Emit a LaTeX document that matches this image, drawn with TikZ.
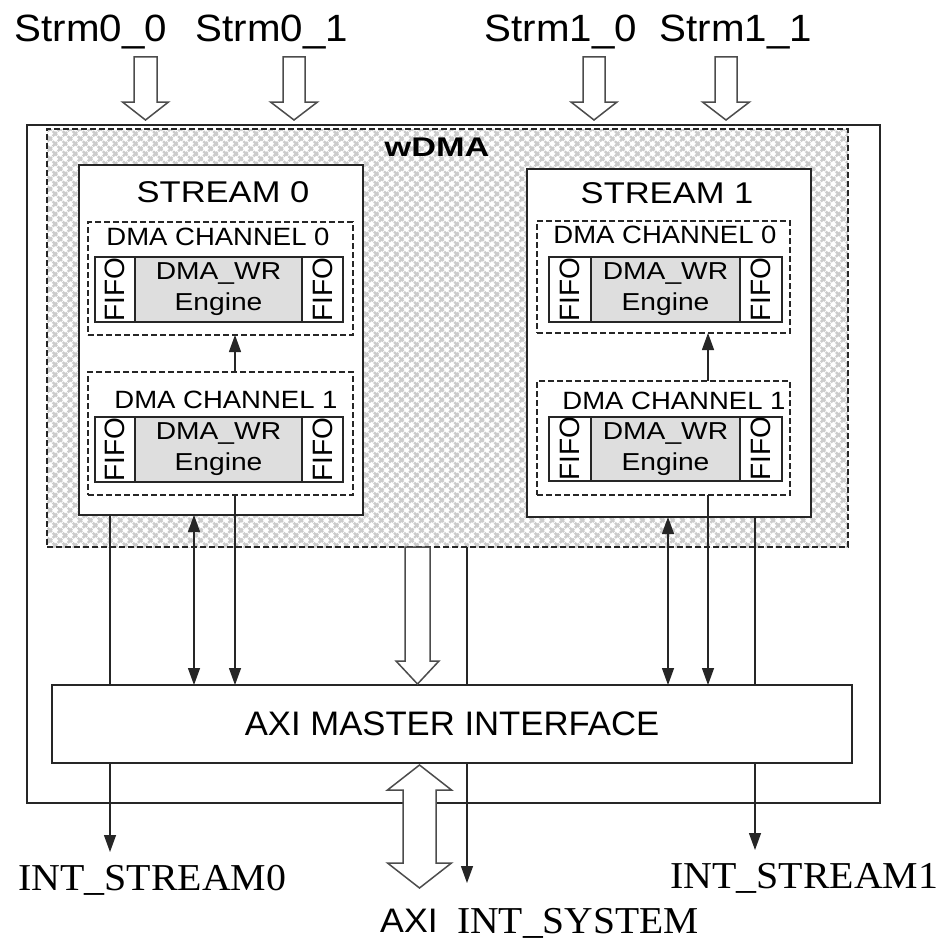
\documentclass[tikz,border=0pt]{standalone}
\usepackage{fontspec}
\setmainfont{Liberation Sans}
\newfontfamily\seriffont{Liberation Serif}
\usetikzlibrary{arrows.meta,patterns.meta,calc}
\newcommand\hx[2]{\scalebox{#1}[1]{#2}}
\newcommand\fs[1]{\fontsize{#1}{#1}\selectfont}
\newcommand\hollowdown[5]{\draw[hollow] ($(#1)+(-#3,0)$) -- ($(#2)+(-#3,-#5)$) -- ($(#2)+(-#4,-#5)$) -- (#2) -- ($(#2)+(#4,-#5)$) -- ($(#2)+(#3,-#5)$) -- ($(#1)+(#3,0)$) -- cycle;}
\newcommand\hollowboth[5]{\draw[hollow] (#1) -- ($(#1)+(#4,#5)$) -- ($(#1)+(#3,#5)$) -- ($(#2)+(#3,-#5)$) -- ($(#2)+(#4,-#5)$) -- (#2) -- ($(#2)+(-#4,-#5)$) -- ($(#2)+(-#3,-#5)$) -- ($(#1)+(-#3,#5)$) -- ($(#1)+(-#4,#5)$) -- cycle;}
\tikzset{
 box/.style={draw=black!85, line width=1.4pt, inner sep=0pt, outer sep=0pt, fill=white},
 dbox/.style={draw=black!85, line width=1.3pt, dash pattern=on 6pt off 3pt, inner sep=0pt, outer sep=0pt},
 eng/.style={box, fill=black!13, align=center, font=\fontsize{24.5}{31}\selectfont},
 fifo/.style={box, font=\fs{28}},
 conn/.style={draw=black!85, line width=1.3pt},
 sarrow/.style={-{Triangle[length=17pt,width=12pt]}},
 barrow/.style={{Triangle[length=17pt,width=12pt]}-{Triangle[length=17pt,width=12pt]}},
 hollow/.style={draw=black!70, line width=1.5pt, fill=white, line join=miter},
 lbl/.style={inner sep=0pt, anchor=base},
 hatchA/.style={pattern={Lines[angle=45,distance=7.1pt,line width=2.4pt]}, pattern color=black!20},
 hatchB/.style={pattern={Lines[angle=-45,distance=7.1pt,line width=2.4pt]}, pattern color=black!20},
}
\begin{document}
\begin{tikzpicture}[x=1pt,y=-1pt]
\useasboundingbox[fill=white] (0,0) rectangle (937,942);

% x references
\coordinate (X110) at (110,0);
\coordinate (X194) at (194,0);
\coordinate (X235) at (235,0);
\coordinate (X467) at (467,0);
\coordinate (X417) at (417.5,0);
\coordinate (X668) at (668,0);
\coordinate (X708) at (708,0);
\coordinate (X755) at (755,0);

% outer box
\node[box, minimum width=853pt, minimum height=678pt] (outer) at (453.5,464) {};

% wDMA hatched region
\node[dbox, preaction={fill=white}, preaction={hatchA}, hatchB, minimum width=801pt, minimum height=418pt] (wdma) at (447.5,338) {};
\node[lbl, font=\bfseries\fs{27}] (wlab) at (437,156) {\hx{1.27}{wDMA}};

% STREAM 0
\node[box, minimum width=284pt, minimum height=350pt] (s0) at (221,340) {};
\node[lbl, font=\fs{30}] (s0lab) at (223,202) {\hx{1.15}{STREAM 0}};
\node[dbox, minimum width=265pt, minimum height=113pt] (s0c0) at (220.5,278.5) {};
\node[lbl, font=\fs{25}] (s0c0lab) at (218,245) {\hx{1.1}{DMA CHANNEL 0}};
\node[fifo, minimum width=40pt, minimum height=65pt] (s0c0l) at (115,289.5) {\rotatebox{90}{FIFO}};
\node[eng, minimum width=167pt, minimum height=65pt] (s0c0e) at (218.5,289.5) {\hx{1.15}{DMA\_WR}\\\hx{1.15}{Engine}};
\node[fifo, minimum width=41pt, minimum height=65pt] (s0c0r) at (322.5,289.5) {\rotatebox{90}{FIFO}};
\node[dbox, minimum width=265pt, minimum height=123pt] (s0c1) at (220.5,433.5) {};
\node[lbl, font=\fs{25}] (s0c1lab) at (226,408) {\hx{1.1}{DMA CHANNEL 1}};
\node[fifo, minimum width=40pt, minimum height=65pt] (s0c1l) at (115,449.5) {\rotatebox{90}{FIFO}};
\node[eng, minimum width=167pt, minimum height=65pt] (s0c1e) at (218.5,449.5) {\hx{1.15}{DMA\_WR}\\\hx{1.15}{Engine}};
\node[fifo, minimum width=41pt, minimum height=65pt] (s0c1r) at (322.5,449.5) {\rotatebox{90}{FIFO}};

% STREAM 1
\node[box, minimum width=284pt, minimum height=348pt] (s1) at (669,343) {};
\node[lbl, font=\fs{30}] (s1lab) at (667,203) {\hx{1.15}{STREAM 1}};
\node[dbox, minimum width=253pt, minimum height=112pt] (s1c0) at (663.5,277) {};
\node[lbl, font=\fs{25}] (s1c0lab) at (665,243) {\hx{1.1}{DMA CHANNEL 0}};
\node[fifo, minimum width=42pt, minimum height=65pt] (s1c0l) at (570,289.5) {\rotatebox{90}{FIFO}};
\node[eng, minimum width=149pt, minimum height=65pt] (s1c0e) at (665.5,289.5) {\hx{1.15}{DMA\_WR}\\\hx{1.15}{Engine}};
\node[fifo, minimum width=42pt, minimum height=65pt] (s1c0r) at (761,289.5) {\rotatebox{90}{FIFO}};
\node[dbox, minimum width=253pt, minimum height=114pt] (s1c1) at (663.5,438) {};
\node[lbl, font=\fs{25}] (s1c1lab) at (674,409) {\hx{1.1}{DMA CHANNEL 1}};
\node[fifo, minimum width=42pt, minimum height=64pt] (s1c1l) at (570,449) {\rotatebox{90}{FIFO}};
\node[eng, minimum width=149pt, minimum height=64pt] (s1c1e) at (665.5,449) {\hx{1.15}{DMA\_WR}\\\hx{1.15}{Engine}};
\node[fifo, minimum width=42pt, minimum height=64pt] (s1c1r) at (761,449) {\rotatebox{90}{FIFO}};

% AXI master interface
\node[box, minimum width=800pt, minimum height=78pt, font=\fs{34}] (axi) at (452,724) {\hx{1.02}{AXI MASTER INTERFACE}};

% connectors stream 0
\draw[conn, sarrow] (s0c1.north -| X235) -- (s0c0.south -| X235);
\draw[conn, sarrow] (s0c1.south -| X235) -- (axi.north -| X235);
\draw[conn, barrow] (s0.south -| X194) -- (axi.north -| X194);
\coordinate (i0) at (110,852);
\draw[conn] (s0.south -| X110) -- (axi.north -| X110);
\draw[conn, sarrow] (axi.south -| X110) -- (i0);

% connectors stream 1
\draw[conn, sarrow] (s1c1.north -| X708) -- (s1c0.south -| X708);
\draw[conn, sarrow] (s1c1.south -| X708) -- (axi.north -| X708);
\draw[conn, barrow] (s1.south -| X668) -- (axi.north -| X668);
\coordinate (i1) at (755,850);
\draw[conn] (s1.south -| X755) -- (axi.north -| X755);
\draw[conn, sarrow] (axi.south -| X755) -- (i1);

% INT_SYSTEM
\coordinate (isys) at (467,883);
\draw[conn] (wdma.south -| X467) -- (axi.north -| X467);
\draw[conn, sarrow] (axi.south -| X467) -- (isys);

% hollow arrow wDMA -> AXI
\coordinate (hwt) at (wdma.south -| X417);
\coordinate (hwb) at (417.5,684);
\hollowdown{hwt}{hwb}{12.5}{21.5}{23}

% AXI double hollow arrow
\coordinate (hat) at (419.5,765);
\coordinate (hab) at (419.5,888);
\hollowboth{hat}{hab}{16.5}{32}{25}

% top input arrows
\coordinate (t00) at (145.5,57);  \coordinate (h00) at (145.5,120);
\coordinate (t01) at (294,57);    \coordinate (h01) at (294,120);
\coordinate (t10) at (594,57);    \coordinate (h10) at (594,120);
\coordinate (t11) at (726,57);    \coordinate (h11) at (726,120);
\hollowdown{t00}{h00}{11.5}{23}{18}
\hollowdown{t01}{h01}{11}{23.5}{18}
\hollowdown{t10}{h10}{11}{23}{18}
\hollowdown{t11}{h11}{11}{23.5}{18}

% top labels
\node[lbl, font=\fs{38}] (l00) at (91,42) {\hx{1.06}{Strm0\_0}};
\node[lbl, font=\fs{38}] (l01) at (272,42) {\hx{1.06}{Strm0\_1}};
\node[lbl, font=\fs{38}] (l10) at (561,42) {\hx{1.06}{Strm1\_0}};
\node[lbl, font=\fs{38}] (l11) at (736,42) {\hx{1.06}{Strm1\_1}};

% bottom labels
\node[inner sep=0pt, anchor=base west, font=\seriffont\fs{38}] (li0) at (18,890) {\hx{1.05}{INT\_STREAM0}};
\node[inner sep=0pt, anchor=base west, font=\seriffont\fs{38}] (li1) at (670,888) {\hx{1.05}{INT\_STREAM1}};
\node[inner sep=0pt, anchor=base west, font=\seriffont\fs{38}] (lis) at (457,933) {\hx{1.04}{INT\_SYSTEM}};
\node[inner sep=0pt, anchor=base west, font=\fs{34}] (lax) at (380,932) {\hx{1.05}{AXI}};
\end{tikzpicture}
\end{document}
